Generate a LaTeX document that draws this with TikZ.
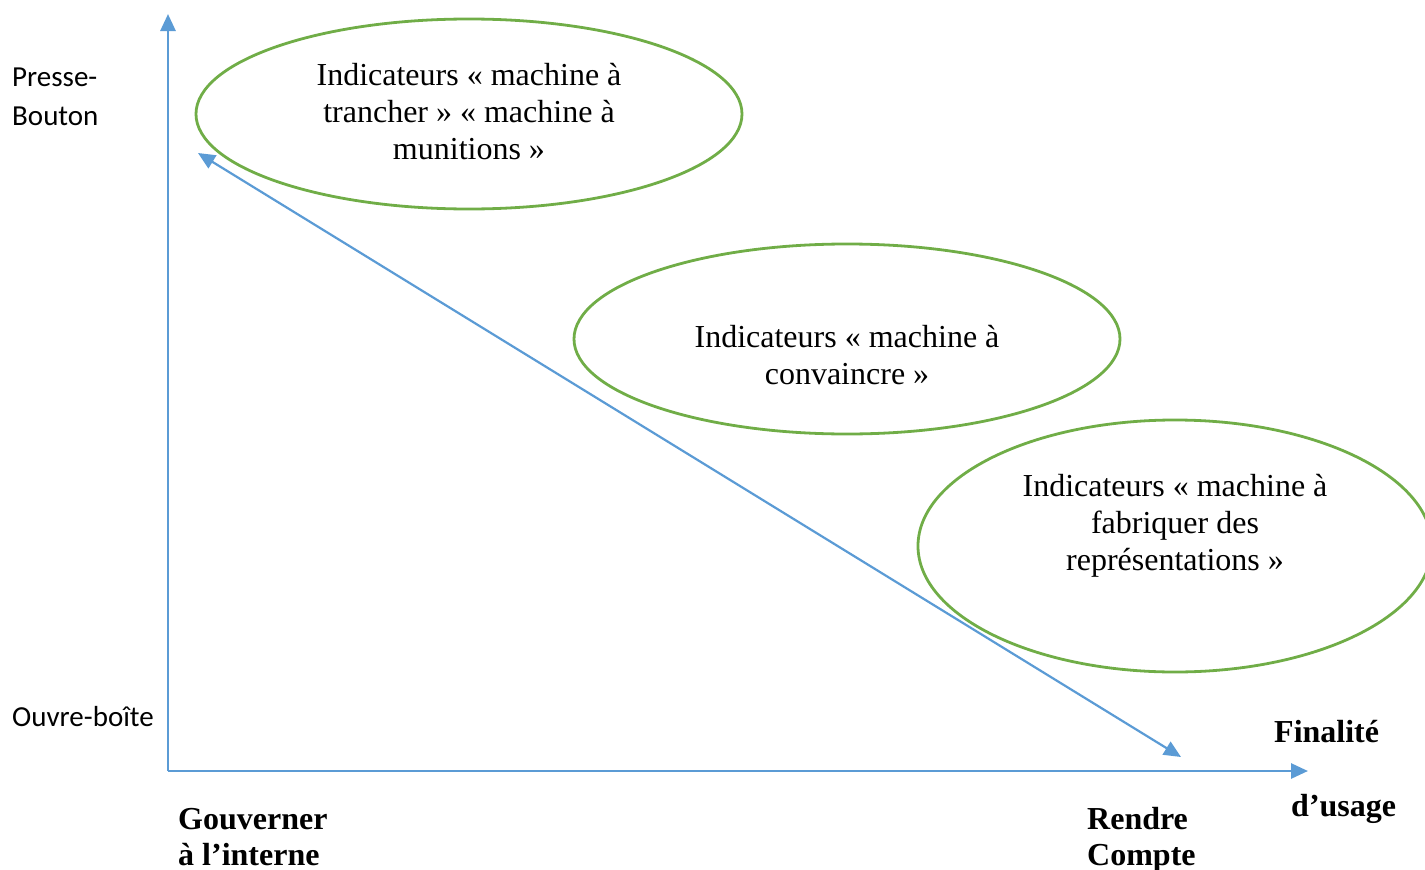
\documentclass[tikz,border=0pt]{standalone}
\usepackage{fontspec}
\setmainfont{Liberation Serif}
\newfontfamily\calibri{Carlito}
\usetikzlibrary{arrows.meta,shapes.geometric}
\definecolor{axisblue}{HTML}{5B9BD5}
\definecolor{ovalgreen}{HTML}{70AD47}

\begin{document}
\begin{tikzpicture}[x=1pt, y=-1pt,
	tip/.tip={Triangle[length=17pt,width=15pt]},
	axe/.style={line width=2.8pt, color=axisblue, -tip},
	oval/.style={ellipse, draw=ovalgreen, line width=2.8pt, inner sep=0pt, minimum width=546pt, minimum height=190pt},
	ovaltext/.style={align=center, font=\fontsize{32}{37}\selectfont},
	sidetext/.style={align=left, anchor=west, inner sep=0pt, font=\calibri\fontsize{29}{39}\selectfont},
	goaltext/.style={align=left, anchor=north west, inner sep=0pt, font=\bfseries\fontsize{32}{36}\selectfont}]
			%%%%% START %%%%%
			
			\clip (0, 0) rectangle (1425, 870);
			
			\coordinate (origin) at (168, 771);
			\coordinate (ytop) at (168, 14);
			\coordinate (xend) at (1308, 771);
			\coordinate (diagA) at (198, 153);
			\coordinate (diagB) at (1181, 757);
			
			\draw[axe] (origin) -- (ytop);
			\draw[axe] (origin) -- (xend);
			\draw[axe, line width=2.2pt, tip-tip] (diagA) -- (diagB);
			
			\node[oval] (trancher) at (469, 114) {};
			\node[oval] (convaincre) at (847, 339) {};
			\node[oval, minimum width=514pt, minimum height=252pt] (fabriquer) at (1175, 546) {};
			
			\node[ovaltext] (trancherTxt) at ([yshift=2pt]trancher.center) {Indicateurs « machine à\\trancher » « machine à\\munitions »};
			\node[ovaltext] (convaincreTxt) at ([yshift=-16pt]convaincre.center) {Indicateurs « machine à\\convaincre »};
			\node[ovaltext] (fabriquerTxt) at ([yshift=20pt]fabriquer.center) {Indicateurs « machine à\\fabriquer des\\représentations »};
			
			\node[sidetext] (presse) at (12, 97) {Presse-\\Bouton};
			\node[sidetext] (ouvre) at (12, 717) {Ouvre-boîte};
			
			\node[goaltext] (gouverner) at (178, 808) {Gouverner\\à l’interne};
			\node[goaltext] (rendre) at (1087, 807) {Rendre\\Compte};
			\node[goaltext] (finalite) at (1274, 720) {Finalité};
			\node[goaltext] (usage) at (1291, 794) {d’usage};
			
			%%%%% END %%%%%
\end{tikzpicture}
\end{document}
